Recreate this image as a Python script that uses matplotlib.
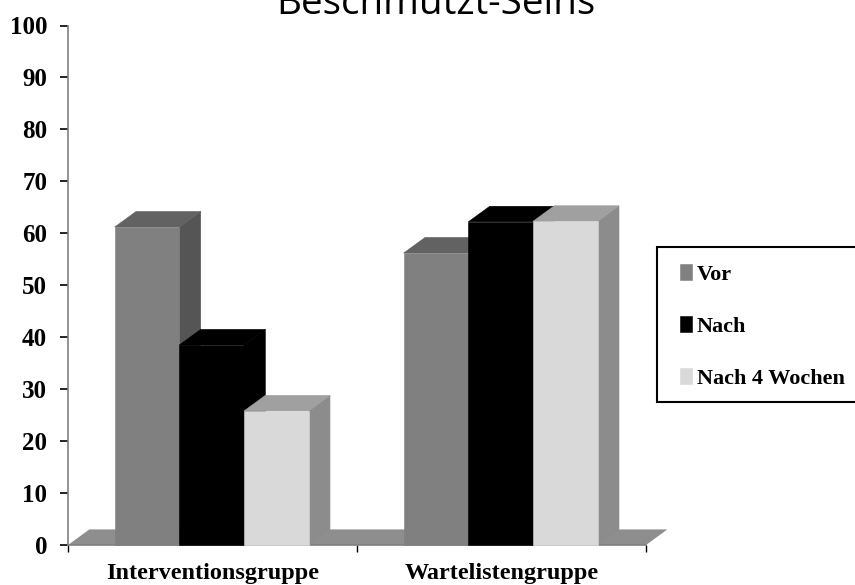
import matplotlib
matplotlib.use("Agg")
import matplotlib.pyplot as plt
from matplotlib.patches import Polygon, Rectangle

groups = ["Interventionsgruppe", "Wartelistengruppe"]
series = ["Vor", "Nach", "Nach 4 Wochen"]
vor = [61.2, 56.2]
nach = [38.5, 62.2]
nach_4 = [25.8, 62.3]
yticks = [0, 10, 20, 30, 40, 50, 60, 70, 80, 90, 100]

values = [vor, nach, nach_4]
front = ["#808080", "#000000", "#d9d9d9"]
top = ["#626262", "#000000", "#a0a0a0"]
side = ["#555555", "#000000", "#8c8c8c"]
floor = "#8e8e8e"

W, H = 855, 585
fig = plt.figure(figsize=(W / 100, H / 100), dpi=100, facecolor="white")
ax = fig.add_axes([68 / W, 1 - 545 / H, 578 / W, 519.5 / H])
ax.set_xlim(0, 2)
ax.set_ylim(0, 100)

bar_w = 0.2237
centre = 0.497
dx = 0.074  # fake 3D depth, x direction
dy = 3.0    # fake 3D depth, y direction

serif = "Liberation Serif"

# floor of the 3D chart
ax.add_patch(Polygon([(0, 0), (2, 0), (2 + dx, dy), (dx, dy)], closed=True,
                     facecolor=floor, edgecolor="none", clip_on=False, zorder=1))

# bars left to right so each one covers the depth of the one before
z = 2
for g in range(len(groups)):
    for s in range(len(series)):
        v = values[s][g]
        x0 = g + centre + (s - 1.5) * bar_w
        x1 = x0 + bar_w
        ax.add_patch(Polygon([(x1, 0), (x1 + dx, dy), (x1 + dx, v + dy), (x1, v)], closed=True,
                             facecolor=side[s], edgecolor=side[s], linewidth=0.4, clip_on=False, zorder=z))
        ax.add_patch(Polygon([(x0, v), (x1, v), (x1 + dx, v + dy), (x0 + dx, v + dy)], closed=True,
                             facecolor=top[s], edgecolor=top[s], linewidth=0.4, clip_on=False, zorder=z))
        ax.bar(x0, v, width=bar_w, align="edge", color=front[s], edgecolor=front[s], linewidth=0.4,
               label=series[s] if g == 0 else None, zorder=z + 0.5, clip_on=False)
        z += 1

for name in ["top", "right"]:
    ax.spines[name].set_visible(False)
ax.spines["left"].set_color("#808080")
ax.spines["left"].set_linewidth(1.2)
ax.spines["bottom"].set_color("#808080")
ax.spines["bottom"].set_linewidth(1.2)

ax.set_yticks(yticks)
ax.set_yticklabels([str(t) for t in yticks], family=serif, fontweight="bold", fontsize=18)
ax.tick_params(axis="y", length=6, width=1.2, color="black", pad=9)
ax.set_xticks([0, 1, 2])
ax.set_xticklabels([])
ax.tick_params(axis="x", length=5, width=1.0, color="black")

for g, name in enumerate(groups):
    ax.text(g + centre + 0.003, -5.5, name, ha="center", va="center", family=serif, fontweight="bold", fontsize=17.5)

fig.text(436 / W, 1 - 14 / H, "Beschmutzt-Seins", ha="center", va="baseline",
         family="Open Sans", fontsize=27.8)

# legend box runs off the right edge, so it is drawn apart from the entries
fig.add_artist(Rectangle((657 / W, 1 - 402 / H), 240 / W, 155 / H, transform=fig.transFigure,
                         facecolor="white", edgecolor="black", linewidth=1.5, clip_on=True))
fig.legend(loc="upper left", bbox_to_anchor=(680 / W, 1 - 264 / H), bbox_transform=fig.transFigure,
           frameon=False, prop={"family": serif, "weight": "bold", "size": 16},
           handlelength=0.54, handleheight=0.7, handletextpad=0.22,
           labelspacing=1.42, borderpad=0, borderaxespad=0)

fig.savefig("out.png", dpi=100)
